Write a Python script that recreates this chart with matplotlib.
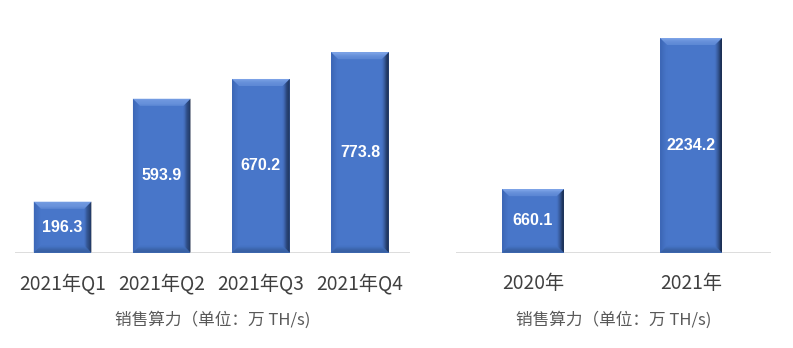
import numpy as np
import matplotlib
matplotlib.use("Agg")
import matplotlib.pyplot as plt
from matplotlib.patches import Polygon
from matplotlib.colors import to_rgb
from matplotlib.transforms import IdentityTransform

plt.rcParams['font.family'] = ['Noto Sans CJK SC', 'DejaVu Sans']

# data
quarters = ["2021年Q1", "2021年Q2", "2021年Q3", "2021年Q4"]
quarter_vals = [196.3, 593.9, 670.2, 773.8]

years = ["2020年", "2021年"]
year_vals = [660.1, 2234.2]

axis_note = "销售算力（单位：万 TH/s)"

face = "#4876c9"
W, H = 793, 348


def mix(c1, c2, t):
    a = np.array(to_rgb(c1))
    b = np.array(to_rgb(c2))
    return tuple(a + (b - a) * t)


def bevel(ax, bar, b=7, n=8):
    # fake the office-style bevel with concentric strips in pixel space
    x0, y0, x1, y1 = bar.get_window_extent().extents
    sides = {
        "top": ("#86abec", "#5f8ad6"),
        "right": ("#101d36", face),
        "left": ("#3a64b2", face),
        "bottom": ("#2f558f", face),
    }
    for k in range(n):
        t0 = k * b / n
        t1 = (k + 1) * b / n
        f = (k + 0.5) / n
        quads = {
            "top": [(x0 + t0, y1 - t0), (x1 - t0, y1 - t0), (x1 - t1, y1 - t1), (x0 + t1, y1 - t1)],
            "right": [(x1 - t0, y1 - t0), (x1 - t0, y0 + t0), (x1 - t1, y0 + t1), (x1 - t1, y1 - t1)],
            "left": [(x0 + t0, y1 - t0), (x0 + t0, y0 + t0), (x0 + t1, y0 + t1), (x0 + t1, y1 - t1)],
            "bottom": [(x0 + t0, y0 + t0), (x1 - t0, y0 + t0), (x1 - t1, y0 + t1), (x0 + t1, y0 + t1)],
        }
        for side in ["bottom", "left", "right", "top"]:
            c_out, c_in = sides[side]
            p = Polygon(quads[side], closed=True, facecolor=mix(c_out, c_in, f),
                        edgecolor="none", transform=IdentityTransform())
            p.set_zorder(3)
            ax.add_artist(p)


fig = plt.figure(figsize=(W / 100, H / 100), dpi=100)

base = 95.5 / H
height = 232.5 / H
ax1 = fig.add_axes([15 / W, base, 395 / W, height])
ax2 = fig.add_axes([456 / W, base, 315 / W, height])

panels = [
    (ax1, quarters, quarter_vals, 0.58, (-0.48, 3.505), 898),
    (ax2, years, year_vals, 0.39, (-0.487, 1.506), 2422),
]

bar_sets = []
for ax, cats, vals, bw, xl, ytop in panels:
    x = np.arange(len(cats))
    bars = ax.bar(x, vals, width=bw, color=face, zorder=2)
    bar_sets.append((ax, bars, vals))
    ax.axhline(0, color="#d9d9d9", lw=2, zorder=1)
    ax.set_xlim(*xl)
    ax.set_ylim(0, ytop)
    ax.set_xticks(x)
    ax.set_xticklabels(cats, fontsize=13.8, color="#404040")
    ax.tick_params(axis="x", length=0, pad=15)
    ax.set_yticks([])
    for s in ax.spines.values():
        s.set_visible(False)
    ax.text(0.5, -68 / 232.5, axis_note, transform=ax.transAxes, ha="center",
            va="center", fontsize=12, color="#595959")

fig.canvas.draw()

for ax, bars, vals in bar_sets:
    for bar, v in zip(bars, vals):
        bevel(ax, bar)
        ax.text(bar.get_x() + bar.get_width() / 2, v / 2, f"{v:.1f}",
                ha="center", va="center", color="white", fontsize=11.5,
                fontweight="bold", family=["Liberation Sans", "DejaVu Sans"], zorder=5)

fig.savefig("out.png", dpi=100)
